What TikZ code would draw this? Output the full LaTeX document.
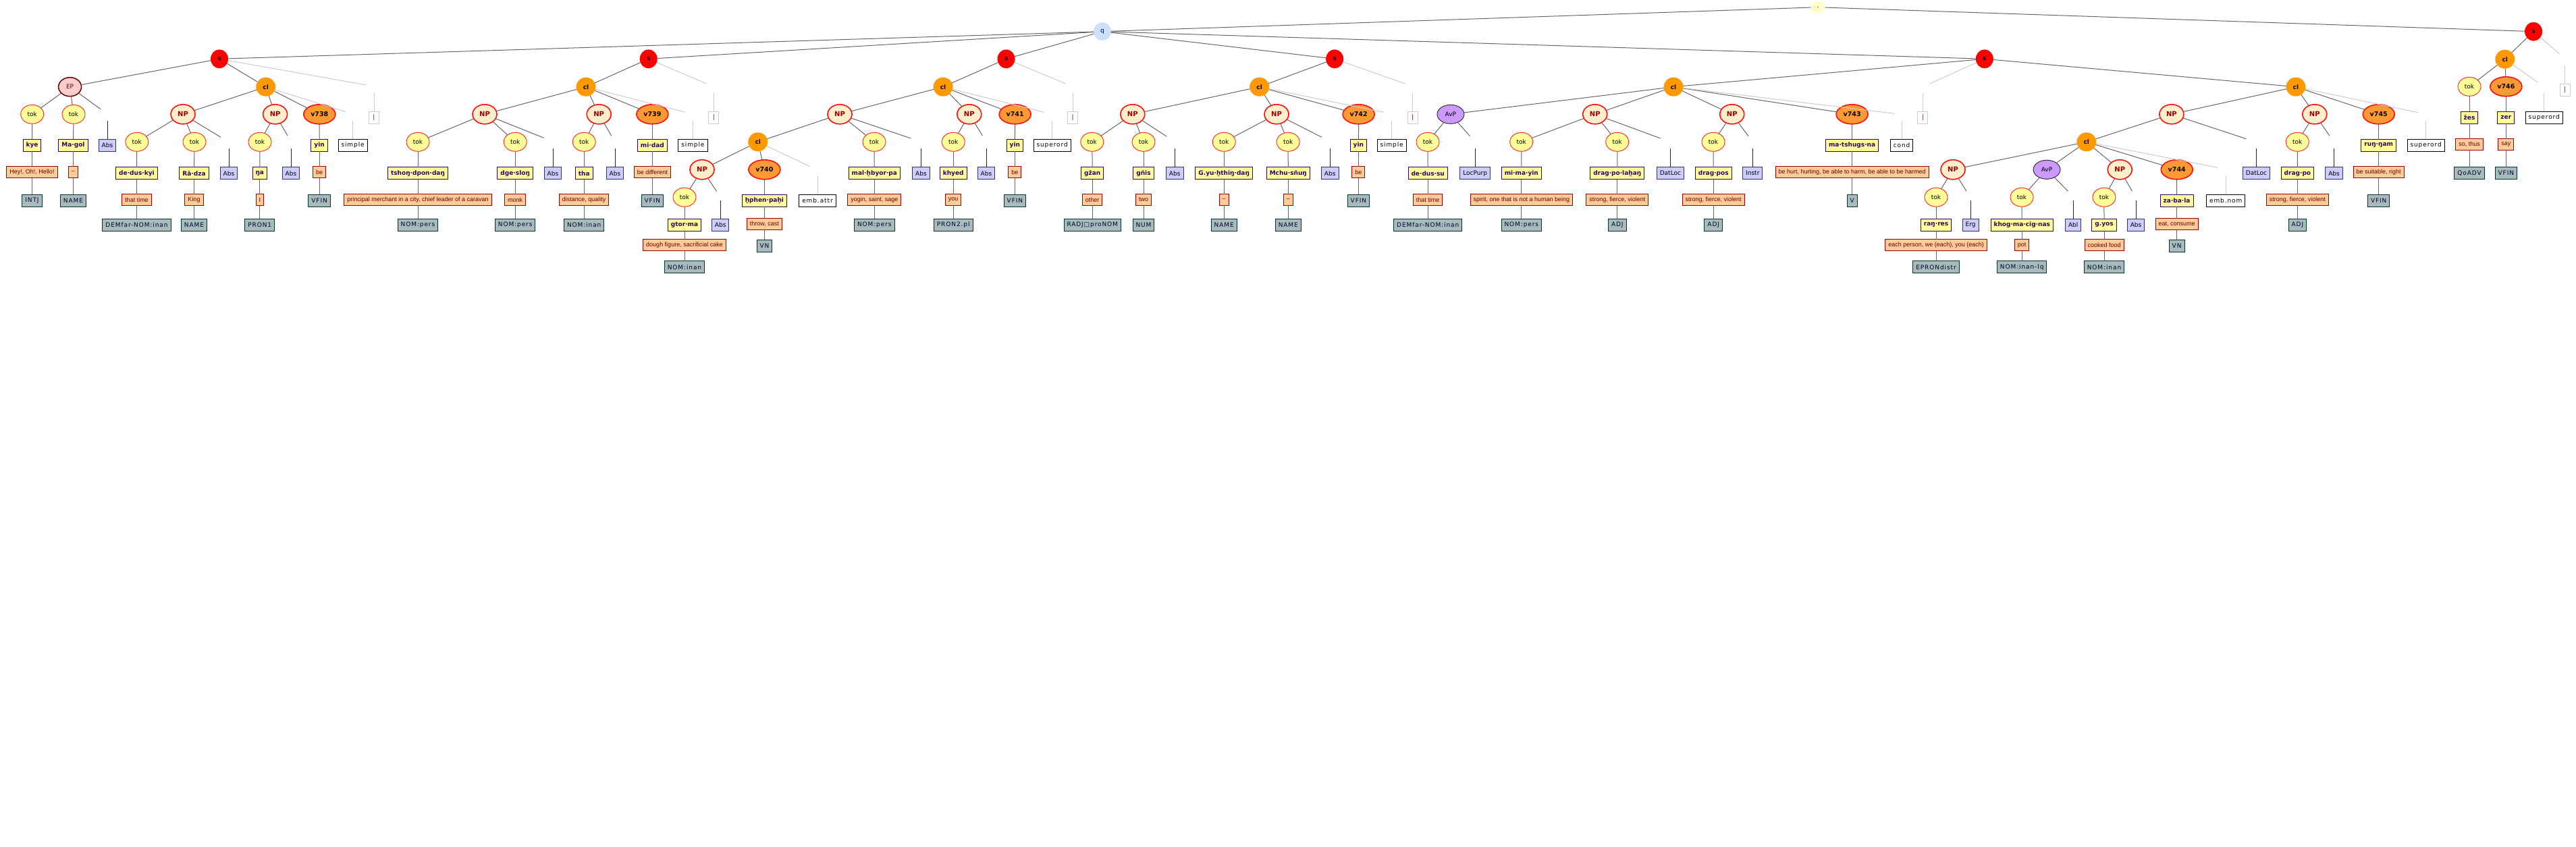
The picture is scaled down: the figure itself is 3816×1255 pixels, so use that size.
\documentclass[tikz,border=0pt]{standalone}
\usepackage{fontspec}
\setmainfont{DejaVu Sans}
\newfontfamily\glossfam{Liberation Sans}
\newfontfamily\posfam[LetterSpace=10]{DejaVu Sans}
\usetikzlibrary{shapes.geometric}
\definecolor{cS}{HTML}{FF0000}
\definecolor{cQ}{HTML}{CCE0FF}
\definecolor{cDot}{HTML}{FFFFCC}
\definecolor{cCl}{HTML}{FF9900}
\definecolor{cEPf}{HTML}{FFCCCC}
\definecolor{cEPd}{HTML}{660000}
\definecolor{cNPf}{HTML}{FFEECC}
\definecolor{cNPd}{HTML}{FF1111}
\definecolor{cNPt}{HTML}{990000}
\definecolor{cAvP}{HTML}{CC99FF}
\definecolor{cAvPd}{HTML}{333333}
\definecolor{cTok}{HTML}{FFFF99}
\definecolor{cTokd}{HTML}{FF3333}
\definecolor{cV}{HTML}{FF9933}
\definecolor{cVd}{HTML}{FF1111}
\definecolor{cWord}{HTML}{FFFF99}
\definecolor{cWordd}{HTML}{330066}
\definecolor{cGl}{HTML}{FFCC99}
\definecolor{cGld}{HTML}{990000}
\definecolor{cGlt}{HTML}{660000}
\definecolor{cPos}{HTML}{A8BABA}
\definecolor{cPosd}{HTML}{003333}
\definecolor{cPost}{HTML}{000033}
\definecolor{cRel}{HTML}{CCCCFF}
\definecolor{cReld}{HTML}{333366}
\definecolor{cBar}{HTML}{CCCCCC}
\definecolor{cBart}{HTML}{660066}
\definecolor{cEdge}{HTML}{666666}
\definecolor{cLight}{HTML}{CCCCCC}
\definecolor{cStem}{HTML}{222222}
\newcommand\fsn{\fontsize{9}{10}\selectfont}
\tikzset{
  ell/.style={ellipse, inner sep=0pt, outer sep=0pt, minimum height=28pt, font=\fsn},
  snode/.style={ell, fill=cS, minimum width=26pt, font=\fsn\bfseries},
  qnode/.style={ell, fill=cQ, minimum width=26pt, minimum height=27pt},
  dotnode/.style={ell, fill=cDot, minimum width=21pt, minimum height=18pt},
  clnode/.style={ell, fill=cCl, minimum width=29pt, font=\fsn\bfseries},
  epnode/.style={ell, fill=cEPf, draw=cEPd, line width=1.5pt, minimum width=34pt, text=cEPd},
  npnode/.style={ell, fill=cNPf, draw=cNPd, line width=1.6pt, minimum width=36pt, minimum height=29pt, text=cNPt, font=\fontsize{10}{11}\selectfont\bfseries},
  avpnode/.style={ell, fill=cAvP, draw=cAvPd, line width=1pt, minimum width=40pt},
  toknode/.style={ell, fill=cTok, draw=cTokd, line width=1pt, minimum width=34pt},
  vnode/.style={ell, fill=cV, draw=cVd, line width=1.6pt, minimum width=47pt, minimum height=29pt, font=\fontsize{9.5}{10}\selectfont\bfseries},
  tbox/.style={rectangle, inner xsep=4.5pt, inner ysep=0pt, outer sep=0pt, minimum height=18pt, line width=1pt},
  wordbox/.style={tbox, fill=cWord, draw=cWordd, text=cWordd, font=\fsn\bfseries},
  glossbox/.style={tbox, minimum height=17pt, fill=cGl, draw=cGld, text=cGlt, font=\glossfam\fsn},
  posbox/.style={tbox, fill=cPos, draw=cPosd, text=cPost, font=\posfam\fsn},
  relbox/.style={tbox, fill=cRel, draw=cReld, text=black, font=\fsn},
  lblbox/.style={tbox, fill=white, draw=black, text=black, font=\posfam\fsn},
  barbox/.style={tbox, inner xsep=0pt, minimum width=15pt, fill=white, draw=cBar, text=cBart, font=\fsn},
  edge/.style={draw=cEdge, line width=1pt},
  lightedge/.style={draw=cLight, line width=1pt},
  stemline/.style={draw=cStem, line width=1pt},
}
\newcommand\edgeD[2]{\draw[edge] (#1) -- (#2);}
\newcommand\edgeL[2]{\draw[lightedge] (#1) -- (#2);}
% parent, name, x, yword, word, ygloss, gloss, ypos, pos
\newcommand\tchain[9]{%
  \node[wordbox] (#2w) at (#3,#4) {#5};
  \node[glossbox] (#2g) at (#3,#6) {#7};
  \node[posbox] (#2p) at (#3,#8) {#9};
  \draw[edge] (#1) -- (#2w);
  \draw[edge] (#2w) -- (#2g);
  \draw[edge] (#2g) -- (#2p);}
\newcommand\tchainA[6]{\tchain{#1}{#2}{#3}{256.7}{#4}{296}{#5}{333.3}{#6}}
\newcommand\tchainB[6]{\tchain{#1}{#2}{#3}{215.3}{#4}{255.3}{#5}{297.3}{#6}}
\newcommand\tchainC[6]{\tchain{#1}{#2}{#3}{333.3}{#4}{363.3}{#5}{395.7}{#6}}
\newcommand\tchainD[6]{\tchain{#1}{#2}{#3}{297.3}{#4}{332.3}{#5}{364.3}{#6}}
\newcommand\tchainE[6]{\tchain{#1}{#2}{#3}{174.3}{#4}{214}{#5}{256.7}{#6}}
% name, x, y, text
\newcommand\relb[4]{%
  \node[relbox] (#1) at (#2,#3) {#4};
  \coordinate (#1s) at (#2,#3-36.5);
  \draw[stemline] (#1s) -- (#1);}
\newcommand\lblb[4]{%
  \node[lblbox] (#1) at (#2,#3) {#4};
  \coordinate (#1s) at (#2,#3-36.5);
  \draw[lightedge] (#1s) -- (#1);}
\newcommand\barb[3]{%
  \node[barbox] (#1) at (#2,#3) {|};
  \coordinate (#1s) at (#2,#3-36.3);
  \draw[lightedge] (#1s) -- (#1);}
\begin{document}
\begin{tikzpicture}[x=1pt,y=-1pt]
\useasboundingbox[fill=white] (0,0) rectangle (3816,1255);
% ---------- top ----------
\node[dotnode] (top) at (2693,10.7) {.};
\node[qnode] (q) at (1633,46.7) {q};
\node[snode] (s6) at (3753,46.7) {s};
\edgeD{top}{q} \edgeD{top}{s6}
\node[snode] (s1) at (325,87.3) {s};
\node[snode] (s2) at (960.7,87.3) {s};
\node[snode] (s3) at (1490.5,87.3) {s};
\node[snode] (s4) at (1977.1,87.3) {s};
\node[snode] (s5) at (2939.8,87.3) {s};
\edgeD{q}{s1} \edgeD{q}{s2} \edgeD{q}{s3} \edgeD{q}{s4} \edgeD{q}{s5}
% ---------- s1 ----------
\node[epnode] (ep1) at (103.6,128.7) {EP};
\node[clnode] (c1) at (393.7,128.7) {cl};
\edgeD{s1}{ep1} \edgeD{s1}{c1}
\coordinate (s1e) at (542.6,126); \edgeL{s1}{s1e}
\barb{b1}{554}{174}
\node[toknode] (t1) at (47.7,169.3) {tok};
\node[toknode] (t2) at (109,169.3) {tok};
\coordinate (ep1e) at (149,161.7);
\edgeD{ep1}{t1} \edgeD{ep1}{t2} \edgeD{ep1}{ep1e}
\relb{r1}{159}{215.3}{Abs}
\tchainB{t1}{k1}{47.5}{kye}{Hey!, Oh!, Hello!}{INTJ}
\tchainB{t2}{k2}{108.5}{Ma·gol}{–}{NAME}
\node[npnode] (n1) at (271,169.3) {NP};
\node[npnode] (n2) at (407.6,169.3) {NP};
\node[vnode] (v738) at (473.3,169.3) {v738};
\coordinate (c1e) at (512,165.7);
\edgeD{c1}{n1} \edgeD{c1}{n2} \edgeD{c1}{v738} \edgeL{c1}{c1e}
\lblb{l1}{522.6}{215.3}{simple}
\node[toknode] (t3) at (202.8,210.3) {tok};
\node[toknode] (t4) at (288,210.3) {tok};
\coordinate (n1e) at (327,203.3);
\edgeD{n1}{t3} \edgeD{n1}{t4} \edgeD{n1}{n1e}
\relb{r2}{339}{256.7}{Abs}
\tchainA{t3}{k3}{202.5}{de·dus·kyi}{that time}{DEMfar-NOM:inan}
\tchainA{t4}{k4}{287.5}{Rā·dza}{King}{NAME}
\node[toknode] (t5) at (385,210.3) {tok};
\coordinate (n2e) at (426,201);
\edgeD{n2}{t5} \edgeD{n2}{n2e}
\relb{r3}{431}{256.7}{Abs}
\tchainA{t5}{k5}{384.8}{ŋa}{I}{PRON1}
\tchainB{v738}{k6}{473.1}{yin}{be}{VFIN}
% ---------- s2 ----------
\node[clnode] (c2) at (868,128.7) {cl};
\edgeD{s2}{c2}
\coordinate (s2e) at (1046.4,124); \edgeL{s2}{s2e}
\barb{b2}{1057.4}{174}
\node[npnode] (n3) at (718,169.3) {NP};
\node[npnode] (n4) at (887.2,169.3) {NP};
\node[vnode] (v739) at (966.4,169.3) {v739};
\coordinate (c2e) at (1015,166.3);
\edgeD{c2}{n3} \edgeD{c2}{n4} \edgeD{c2}{v739} \edgeL{c2}{c2e}
\lblb{l2}{1026.4}{215.3}{simple}
\node[toknode] (t6) at (619,210.3) {tok};
\node[toknode] (t7) at (763.2,210.3) {tok};
\coordinate (n3e) at (805.6,204.3);
\edgeD{n3}{t6} \edgeD{n3}{t7} \edgeD{n3}{n3e}
\relb{r4}{819}{256.7}{Abs}
\tchainA{t6}{k7}{619}{tshoŋ·dpon·daŋ}{principal merchant in a city, chief leader of a caravan}{NOM:pers}
\tchainA{t7}{k8}{763.2}{dge·sloŋ}{monk}{NOM:pers}
\node[toknode] (t8) at (865.2,210.3) {tok};
\coordinate (n4e) at (905.6,201);
\edgeD{n4}{t8} \edgeD{n4}{n4e}
\relb{r5}{911}{256.7}{Abs}
\tchainA{t8}{k9}{865.2}{tha}{distance, quality}{NOM:inan}
\tchainB{v739}{k10}{966.4}{mi·dad}{be different}{VFIN}
% ---------- s3 ----------
\node[clnode] (c3) at (1397,128.7) {cl};
\edgeD{s3}{c3}
\coordinate (s3e) at (1578.6,124); \edgeL{s3}{s3e}
\barb{b3}{1589.2}{174}
\node[npnode] (n5) at (1244,169.3) {NP};
\node[npnode] (n6) at (1435.8,169.3) {NP};
\node[vnode] (v741) at (1503.6,169.3) {v741};
\coordinate (c3e) at (1546.8,166.3);
\edgeD{c3}{n5} \edgeD{c3}{n6} \edgeD{c3}{v741} \edgeL{c3}{c3e}
\lblb{l3}{1558.6}{215.3}{superord}
\node[clnode] (c4) at (1122.7,210.3) {cl};
\node[toknode] (t9) at (1295,210.3) {tok};
\coordinate (n5e) at (1349.3,205);
\edgeD{n5}{c4} \edgeD{n5}{t9} \edgeD{n5}{n5e}
\relb{r6}{1364.4}{256.7}{Abs}
\node[npnode] (n7) at (1040,251.3) {NP};
\node[vnode] (v740) at (1132.4,251.3) {v740};
\coordinate (c4e) at (1200,246.7);
\edgeD{c4}{n7} \edgeD{c4}{v740} \edgeL{c4}{c4e}
\lblb{l4}{1211}{297.3}{emb.attr}
\node[toknode] (t10) at (1014,292.3) {tok};
\coordinate (n7e) at (1061.5,283.3);
\edgeD{n7}{t10} \edgeD{n7}{n7e}
\relb{r7}{1067.2}{333.3}{Abs}
\tchainC{t10}{k11}{1014}{gtor·ma}{dough figure, sacrificial cake}{NOM:inan}
\tchainD{v740}{k12}{1132.4}{ḫphen·paḫi}{throw, cast}{VN}
\tchainA{t9}{k13}{1295.3}{mal·ḫbyor·pa}{yogin, saint, sage}{NOM:pers}
\node[toknode] (t11) at (1412.2,210.3) {tok};
\coordinate (n6e) at (1455.4,201);
\edgeD{n6}{t11} \edgeD{n6}{n6e}
\relb{r8}{1461}{256.7}{Abs}
\tchainA{t11}{k14}{1412.2}{khyed}{you}{PRON2.pl}
\tchainB{v741}{k15}{1503.4}{yin}{be}{VFIN}
% ---------- s4 ----------
\node[clnode] (c5) at (1865.6,128.7) {cl};
\edgeD{s4}{c5}
\coordinate (s4e) at (2081.5,124); \edgeL{s4}{s4e}
\barb{b4}{2092.6}{174}
\node[npnode] (n8) at (1677.8,169.3) {NP};
\node[npnode] (n9) at (1891,169.3) {NP};
\node[vnode] (v742) at (2012.6,169.3) {v742};
\coordinate (c5e) at (2049.7,166.3);
\edgeD{c5}{n8} \edgeD{c5}{n9} \edgeD{c5}{v742} \edgeL{c5}{c5e}
\lblb{l5}{2061.6}{215.3}{simple}
\node[toknode] (t12) at (1617.8,210.3) {tok};
\node[toknode] (t13) at (1694,210.3) {tok};
\coordinate (n8e) at (1728.4,202.3);
\edgeD{n8}{t12} \edgeD{n8}{t13} \edgeD{n8}{n8e}
\relb{r9}{1740.2}{256.7}{Abs}
\tchainA{t12}{k16}{1618.2}{gžan}{other}{RADJ□proNOM}
\tchainA{t13}{k17}{1694}{gñis}{two}{NUM}
\node[toknode] (t14) at (1813.2,210.3) {tok};
\node[toknode] (t15) at (1908.1,210.3) {tok};
\coordinate (n9e) at (1958,203.3);
\edgeD{n9}{t14} \edgeD{n9}{t15} \edgeD{n9}{n9e}
\relb{r10}{1970.2}{256.7}{Abs}
\tchainA{t14}{k18}{1813.2}{G.yu·ḫthiŋ·daŋ}{–}{NAME}
\tchainA{t15}{k19}{1908.3}{Mchu·sñuŋ}{–}{NAME}
\tchainB{v742}{k20}{2012.4}{yin}{be}{VFIN}
% ---------- s5 ----------
\node[clnode] (c6) at (2479,128.7) {cl};
\node[clnode] (c7) at (3400.9,128.7) {cl};
\edgeD{s5}{c6} \edgeD{s5}{c7}
\coordinate (s5e) at (2858.6,124); \edgeL{s5}{s5e}
\barb{b5}{2848.4}{174}
\node[avpnode] (a1) at (2148.9,169.3) {AvP};
\node[npnode] (n10) at (2362.7,169.3) {NP};
\node[npnode] (n11) at (2565.7,169.3) {NP};
\node[vnode] (v743) at (2743.6,169.3) {v743};
\coordinate (c6e) at (2806.4,168.3);
\edgeD{c6}{a1} \edgeD{c6}{n10} \edgeD{c6}{n11} \edgeD{c6}{v743} \edgeL{c6}{c6e}
\lblb{l6}{2817}{215.3}{cond}
\node[toknode] (t16) at (2115,210.3) {tok};
\coordinate (a1e) at (2177.4,201.7);
\edgeD{a1}{t16} \edgeD{a1}{a1e}
\relb{r11}{2185.2}{256.7}{LocPurp}
\tchainA{t16}{k21}{2115.2}{de·dus·su}{that time}{DEMfar-NOM:inan}
\node[toknode] (t17) at (2253.7,210.3) {tok};
\node[toknode] (t18) at (2395.7,210.3) {tok};
\coordinate (n10e) at (2459.8,205);
\edgeD{n10}{t17} \edgeD{n10}{t18} \edgeD{n10}{n10e}
\relb{r12}{2474.4}{256.7}{DatLoc}
\tchainA{t17}{k22}{2253.8}{mi·ma·yin}{spirit, one that is not a human being}{NOM:pers}
\tchainA{t18}{k23}{2395.8}{drag·po·laḫaŋ}{strong, fierce, violent}{ADJ}
\node[toknode] (t19) at (2538,210.3) {tok};
\coordinate (n11e) at (2590,201.7);
\edgeD{n11}{t19} \edgeD{n11}{n11e}
\relb{r13}{2596.3}{256.7}{Instr}
\tchainA{t19}{k24}{2538.2}{drag·pos}{strong, fierce, violent}{ADJ}
\tchainB{v743}{k25}{2743.6}{ma·tshugs·na}{be hurt, hurting, be able to harm, be able to be harmed}{V}
\node[npnode] (n12) at (3216.9,169.3) {NP};
\node[npnode] (n13) at (3428.8,169.3) {NP};
\node[vnode] (v745) at (3523.7,169.3) {v745};
\coordinate (c7e) at (3581.7,166.7);
\edgeD{c7}{n12} \edgeD{c7}{n13} \edgeD{c7}{v745} \edgeL{c7}{c7e}
\lblb{l7}{3593.6}{215.3}{superord}
\node[clnode] (c8) at (3090.8,210.3) {cl};
\coordinate (n12e) at (3327.4,205.7);
\edgeD{n12}{c8} \edgeD{n12}{n12e}
\relb{r14}{3342.5}{256.7}{DatLoc}
\node[npnode] (n14) at (2893,251.3) {NP};
\node[avpnode] (a2) at (3032,251.3) {AvP};
\node[npnode] (n15) at (3140.2,251.3) {NP};
\node[vnode] (v744) at (3224.7,251.3) {v744};
\coordinate (c8e) at (3285,248.3);
\edgeD{c8}{n14} \edgeD{c8}{a2} \edgeD{c8}{n15} \edgeD{c8}{v744} \edgeL{c8}{c8e}
\lblb{l8}{3297.2}{297.3}{emb.nom}
\node[toknode] (t20) at (2868,292.3) {tok};
\coordinate (n14e) at (2913,283.3);
\edgeD{n14}{t20} \edgeD{n14}{n14e}
\relb{r15}{2919}{333.3}{Erg}
\tchainC{t20}{k26}{2868}{raŋ·res}{each person, we (each), you (each)}{EPRONdistr}
\node[toknode] (t21) at (2995,292.3) {tok};
\coordinate (a2e) at (3063.4,283.3);
\edgeD{a2}{t21} \edgeD{a2}{a2e}
\relb{r16}{3071.2}{333.3}{Abl}
\tchainC{t21}{k27}{2995.2}{khog·ma·cig·nas}{pot}{NOM:inan-lq}
\node[toknode] (t22) at (3116.9,292.3) {tok};
\coordinate (n15e) at (3158.4,283.3);
\edgeD{n15}{t22} \edgeD{n15}{n15e}
\relb{r17}{3164}{333.3}{Abs}
\tchainC{t22}{k28}{3117}{g.yos}{cooked food}{NOM:inan}
\tchainD{v744}{k29}{3224.6}{za·ba·la}{eat, consume}{VN}
\node[toknode] (t23) at (3403.2,210.3) {tok};
\coordinate (n13e) at (3450.7,201);
\edgeD{n13}{t23} \edgeD{n13}{n13e}
\relb{r18}{3457.5}{256.7}{Abs}
\tchainA{t23}{k30}{3403.4}{drag·po}{strong, fierce, violent}{ADJ}
\tchainB{v745}{k31}{3523.7}{ruŋ·ŋam}{be suitable, right}{VFIN}
% ---------- s6 ----------
\node[clnode] (c9) at (3710.7,87.7) {cl};
\edgeD{s6}{c9}
\coordinate (s6e) at (3791.7,80); \edgeL{s6}{s6e}
\barb{b6}{3799.7}{133.3}
\node[toknode] (t24) at (3658,128.3) {tok};
\node[vnode] (v746) at (3712.3,128.3) {v746};
\coordinate (c9e) at (3759.3,122);
\edgeD{c9}{t24} \edgeD{c9}{v746} \edgeL{c9}{c9e}
\lblb{l9}{3768.7}{174.3}{superord}
\tchainE{t24}{k32}{3658}{žes}{so, thus}{QoADV}
\tchainE{v746}{k33}{3712.3}{zer}{say}{VFIN}
\end{tikzpicture}
\end{document}
